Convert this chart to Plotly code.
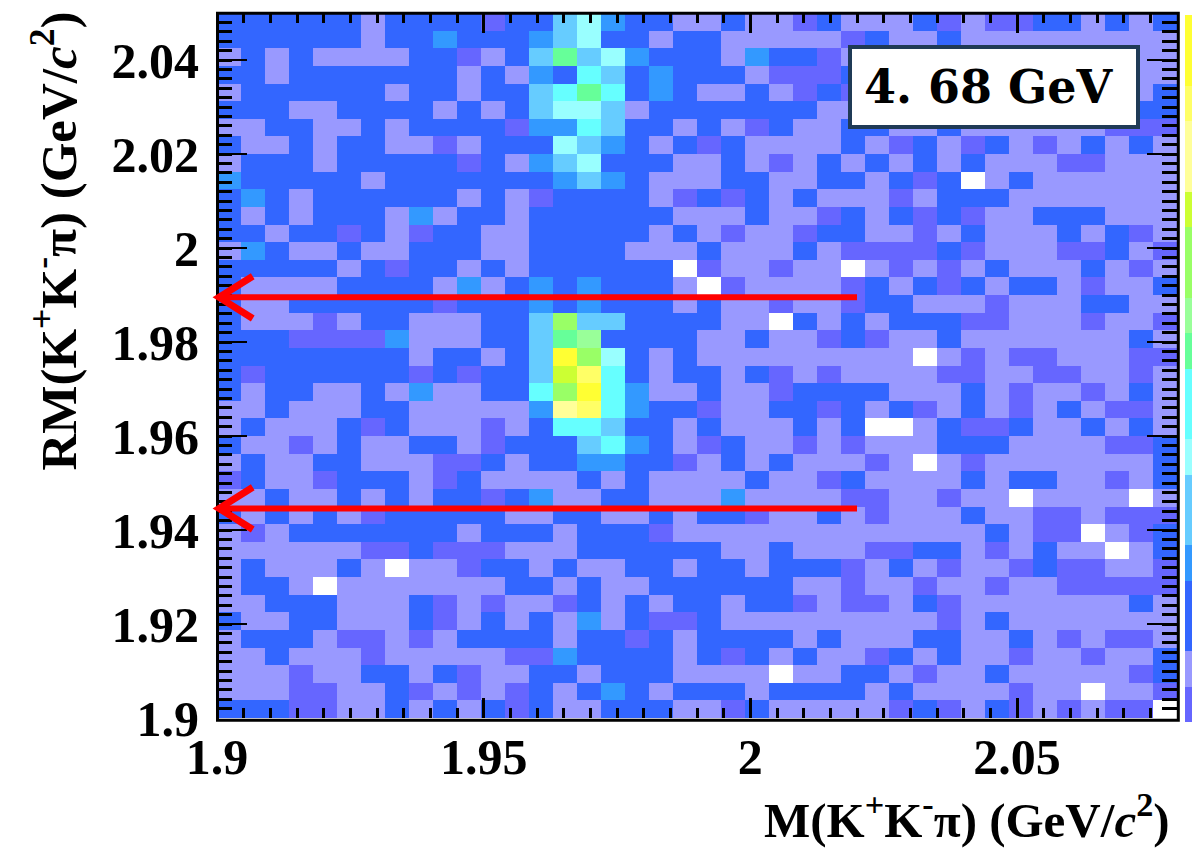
import plotly.graph_objects as go

# Counts per bin, top row first. Each character is one bin in base 20, '.' is an empty bin.
rows_top_down = [
    "222222 1 2222 0 22 5 7 4 22 1  1 2 1 1 0 2 1 1 1 2 0 1 0 0 2 2 1 2 1 2",
    "222222 1 22 4 222 4 5 7 22 1 2  2 11111 0 2 11 2 111111111",
    "1 2 1 2 1111 22 0 1 2 5 A 5 7 4 22  2 1 4 22 0 1 111111111111 1",
    "22 1 2222222 1 2 1 4 2 8 5 2 4 2  2 2 1 000 2 111111111111 1",
    "1 222222 1 22 1 22 5 8 A 8 2 4 2  1 1 2 1 0 2 0 111111111111 2",
    "222 11 2222 1 2 1 2 5 77 5 1 22  22222 1 1 11111111111 2 2",
    "11 22 11 2 1 2222 0 44 8 5 22 1  2 1 0 2 1 1 2 2 1 1 2 1 1 1 1 1 1 0 0 0",
    "2 11 2 1 22 11 0 1 222 7 5 4 2 1 2  0 2 1111 2 1 0 2 1 0 2 1 0 1 2 1 2 1",
    "1 222 1 22222 0 2 1 4 5 7 222 1  1 2 1 0 1 2 1 2 1 2 1 2 111 00 111",
    "4 22222 1 2222222 4 5 4 2 11  1 22 11 22 1 2 0 2 . 1 2 111111",
    "2 4 2 1 222222 1 2 1 0 2222 1 0  2 0 2 1 2 111 0 1 222 1111111",
    "2 1 2 1 222 1 4 1 22 1 222222 1  1 1 2 11 0 2 1 2 0 2 0 11 222 111",
    "22 1 22 0 2 1 0 22 11 22222 1 2  1 0 11 0 22 11 0 1 2 111 2 1 2 0 1",
    "1 4 2 11 2 11 222 11 2222 111  2 111 2 1 0000 2 0 111 00 2 1 0",
    "22222 1 2 0 22 1 2 1 222222 .  0 11 0 11 . 1 0 1 0 1 2 111 2 1 0 1",
    "2 1111 2222 1 4 1 2 4 2 4 222 1  . 0 1111 0 2 1 2 0 2 1 22 1 0 11 2",
    "2 11 222222 0 222 4 2 4 222 1  2 11 0 11 0 22 111 0 111 22 1 1",
    "2 111 0 1 22 111 22 5 C 55 222  2 11 . 2 1 2 1 222 00 111 0 11 0",
    "222 0000 4 111 22 5 A B 2222  11 2 11 0 2 0 11 2 1111111 2 1",
    "22222222 1 22 1 2 5 I C 7 2 1 2  111111111 . 1 0 1 00 111 00",
    "2 0 222222 0 2 0 22 5 E H 8 2 1 2  2 1 2 0 1 0 1111 00 11 00 11 0 1",
    "2 1 22 11 2 1 4 11 22 8 C I 8 4 11  2 11 0 2222 111 2 1 0 11 0 1 2 1",
    "11 2 111 22 11111 4 F H 8 4 22  0 11 22 0 2 1 2 0 1 2 1 0 1 2 1 00 1",
    "1 2 111 2 0 2 111 0 1 2 88 5 22 1  2 111 2 1 2 .. 1 2 00 2 11 2 1 2 1",
    "2 11 0 1 2 11 22 1 0 222 5 8 4 2 1  0 2 11 0 1 0 111 222 1111 00 2",
    "1 2 11 22 111 00 2 1 22 44 22 0  1 2 1 2 111 0 1 . 1 0 1111111 2",
    "0 2 11 0 222 1 0 2 1111 2 1 2 11  11 2 11 0 2 1111 2 1 22 11 0 1 2",
    "11 2 11 2 1 2 1 22 0 2 4 11 22 11  1 4 1111 00 11 0 11 . 1111 . 1",
    "2 1 2 1 2 1 0 22222 11 22 11 2 1  22 0 11 2 1 0 111 2 11 00 1 000",
    "1 0 1 2222222 1 222 1 222 0 1  111111111111 2 1 00 . 1 0 2",
    "111111 00 2 000 111 22222  2 11 2 111 00 22 1 0 1 2 11 . 1 2",
    "1 2 111 2 1 . 11 0 22 1 2 11 22 1  22 1 222 0 1 2 1 0 11 0 2 00 11 0",
    "1 22 1 . 1111111 22 1 2 11 22  2222 11 0 11 0 11 0 11 00000",
    "11 222 111 2 0 1 0 11 0 2 1 2 1 2  2 1 22 0 1 00 1 2 0 1111111 2 1",
    "2 11 22 111 2 0 1 2 1 2 1 4 1 2 00  2 111111111 0 1 2 1111111",
    "1 222 1 00 1 0 1 2222 1 22 0 2 1  2222 1 2 111 22 11 2 1 0 1 00 1",
    "11 2 111 0 11111 00 4 2222 1  2 0 2 1 2 11 0 2 1 2 11 0 11 0 11 2",
    "111 0 11 22 1 2 0 11 22 1 222 1  111 . 11 22 1 0 11 2 11111 0 2",
    "111 00 11 2 0 1 0 1 0 2 1 2 4 2 1 2  22 1 2222 1 2 1111 0 11 . 11 0",
    "222 00 11 2 1 2 1 2 0 2 11 222 1  1 0 2 11111 0 2 0 1 2 0 1 0 1 00 .",
]

x_start = 1.9
x_bin = 0.0045
y_start = 1.9
y_bin = 0.00375
x_range = [1.9, 2.08]
y_range = [1.9, 2.05]

x_tick_vals = [1.9, 1.95, 2.0, 2.05]
x_tick_text = ["1.9", "1.95", "2", "2.05"]
y_tick_vals = [1.9, 1.92, 1.94, 1.96, 1.98, 2.0, 2.02, 2.04]
y_tick_text = ["1.9", "1.92", "1.94", "1.96", "1.98", "2", "2.02", "2.04"]

# Palette levels from the bottom of the colour strip upward (20 levels)
level_colors = [
    "#6666ff", "#9999ff", "#3366ff", "#3366ff", "#3399ff", "#66ccff", "#66ccff",
    "#99ffff", "#66ffff", "#66ffff", "#66ff99", "#99ff99", "#99ff66", "#99ff66",
    "#ccff33", "#ffff99", "#ffff99", "#ffff66", "#ffff33", "#ffff33",
]

arrow_ys = [1.9895, 1.9446]
arrow_end_x = 2.02
arrow_vertex_x = 1.9004
barb_x = 1.9067
barb_dy = 0.0045

SERIF = "Liberation Serif"
PLOT_W, PLOT_H = 960, 705


def parse(row):
    cells = row.replace(" ", "")
    assert len(cells) == 40, (len(cells), row)
    return [None if c == "." else int(c, 20) for c in cells]


def px(v):
    return (v - x_range[0]) / (x_range[1] - x_range[0])


def py(v):
    return (v - y_range[0]) / (y_range[1] - y_range[0])


z = [parse(r) for r in reversed(rows_top_down)]

scale = []
n = len(level_colors)
for i, c in enumerate(level_colors):
    scale.append([i / n, c])
    scale.append([(i + 1) / n, c])

fig = go.Figure()
fig.add_trace(go.Heatmap(
    z=z, x0=x_start + x_bin / 2, dx=x_bin, y0=y_start + y_bin / 2, dy=y_bin,
    zmin=0, zmax=20, colorscale=scale, hoverongaps=False, xgap=0, ygap=0,
    colorbar=dict(
        x=(1184.5 - 217) / PLOT_W, xanchor="left", xpad=0, ypad=0, thickness=8,
        len=707, lenmode="pixels", y=1 - 2 / PLOT_H, yanchor="top",
        outlinewidth=0, borderwidth=0, showticklabels=False, ticks="",
    ),
))

# Frame drawn over the heatmap edge
fig.add_shape(type="rect", xref="paper", yref="paper", layer="above",
              x0=0.5 / PLOT_W, x1=1 + 1.3 / PLOT_W, y0=-2.3 / PLOT_H, y1=1 - 0.3 / PLOT_H,
              line=dict(color="black", width=3), fillcolor="rgba(0,0,0,0)")

# Red arrows, placed through the same axis ranges as the data
for ay in arrow_ys:
    fig.add_shape(type="line", xref="paper", yref="paper", layer="above",
                  x0=px(arrow_end_x), x1=px(arrow_vertex_x), y0=py(ay), y1=py(ay),
                  line=dict(color="#ff0000", width=6))
    fig.add_shape(type="path", xref="paper", yref="paper", layer="above",
                  path=(f"M {px(barb_x)} {py(ay + barb_dy)} L {px(arrow_vertex_x)} {py(ay)} "
                        f"L {px(barb_x)} {py(ay - barb_dy)}"),
                  line=dict(color="#ff0000", width=7), fillcolor="rgba(0,0,0,0)")

# Label box
fig.add_shape(type="rect", xref="paper", yref="paper", layer="above",
              x0=(850 - 217) / PLOT_W, x1=(1138 - 217) / PLOT_W,
              y0=(718 - 127) / PLOT_H, y1=(718 - 47) / PLOT_H,
              line=dict(color="#1f3a56", width=4), fillcolor="white")

axis_font = dict(family=SERIF, size=50, color="black", weight="bold")
fig.update_xaxes(
    range=x_range, tickvals=x_tick_vals, ticktext=x_tick_text, ticks="inside",
    ticklen=20, tickwidth=3, tickcolor="black", tickfont=axis_font, showgrid=False,
    zeroline=False, showline=False, mirror="ticks", ticklabelstandoff=5,
    minor=dict(dtick=0.005, tick0=1.9, ticks="inside", ticklen=10, tickwidth=3,
               tickcolor="black", showgrid=False),
)
fig.update_yaxes(
    range=y_range, tickvals=y_tick_vals, ticktext=y_tick_text, ticks="inside",
    ticklen=30, tickwidth=2, tickcolor="black", tickfont=axis_font, showgrid=False,
    zeroline=False, showline=False, mirror="ticks", ticklabelstandoff=17,
    minor=dict(dtick=0.002, tick0=1.9, ticks="inside", ticklen=15, tickwidth=3,
               tickcolor="black", showgrid=False),
)

fig.add_annotation(
    text="M(K<sup>+</sup>K<sup>-</sup>π) (GeV/<i>c</i><sup>2</sup>)",
    xref="paper", yref="paper", x=(1172 - 217) / PLOT_W, y=-(816 - 718) / PLOT_H,
    xanchor="right", yanchor="middle", showarrow=False,
    font=dict(family=SERIF, size=49, color="black", weight="bold"),
)
fig.add_annotation(
    text="RM(K<sup>+</sup>K<sup>-</sup>π) (GeV/<i>c</i><sup>2</sup>)",
    xref="paper", yref="paper", x=(55 - 217) / PLOT_W, y=(718 - 241.5) / PLOT_H,
    xanchor="center", yanchor="middle", textangle=-90, showarrow=False,
    font=dict(family=SERIF, size=51, color="black", weight="bold"),
)
fig.add_annotation(
    text="<b>4. 68 GeV</b>", xref="paper", yref="paper",
    x=(988.5 - 217) / PLOT_W, y=(718 - 87) / PLOT_H, xanchor="center", yanchor="middle",
    showarrow=False, font=dict(family="DejaVu Serif", size=46, color="black"),
)

fig.update_layout(
    width=1192, height=862, autosize=False, showlegend=False,
    margin=dict(l=217, r=15, t=13, b=144, autoexpand=False),
    paper_bgcolor="white", plot_bgcolor="white",
)

fig.write_html("out.html", post_script="document.body.style.margin='0';",
               config={"displayModeBar": False})
